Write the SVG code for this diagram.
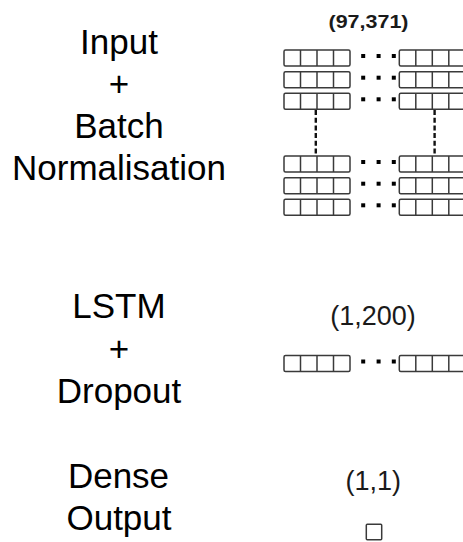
<svg xmlns="http://www.w3.org/2000/svg" xmlns:xlink="http://www.w3.org/1999/xlink" width="463" height="542" viewBox="0 0 463 542">
  <style>
    .lbl { font-family: "Liberation Sans", Arial, Helvetica, sans-serif; font-size: 35px; fill: #000; text-anchor: middle; }
    .dim { font-family: "Liberation Sans", Arial, Helvetica, sans-serif; font-size: 27px; fill: #1a1a1a; text-anchor: middle; }
    .dimb { font-family: "Liberation Sans", Arial, Helvetica, sans-serif; font-size: 19px; font-weight: bold; fill: #1a1a1a; text-anchor: middle; }
    .cell { fill: #fff; stroke: #3a3a3a; stroke-width: 1.5; }
    .div { stroke: #3a3a3a; stroke-width: 1.5; }
    .dot { fill: #000; }
    .dash { stroke: #111; stroke-width: 2.4; stroke-dasharray: 5 2.7; fill: none; }
  </style>
  <defs>
    <g id="block">
      <rect class="cell" x="0" y="0" width="66" height="16" rx="1.5"/>
      <line class="div" x1="16.5" y1="0" x2="16.5" y2="16"/>
      <line class="div" x1="33" y1="0" x2="33" y2="16"/>
      <line class="div" x1="49.5" y1="0" x2="49.5" y2="16"/>
    </g>
    <g id="row">
      <use xlink:href="#block" x="284" y="0"/>
      <rect class="dot" x="361.2" y="4" width="4" height="4"/>
      <rect class="dot" x="376.6" y="4" width="4" height="4"/>
      <rect class="dot" x="391.8" y="4" width="4" height="4"/>
      <use xlink:href="#block" x="399.3" y="0"/>
    </g>
  </defs>

  <g id="input-label">
    <text class="lbl" x="119" y="54">Input</text>
    <text class="lbl" x="119" y="96">+</text>
    <text class="lbl" x="119" y="138">Batch</text>
    <text class="lbl" x="119" y="180">Normalisation</text>
  </g>

  <g id="input-tensor">
    <text class="dimb" x="368.5" y="28" textLength="80" lengthAdjust="spacingAndGlyphs">(97,371)</text>
    <use xlink:href="#row" y="50"/>
    <use xlink:href="#row" y="71.7"/>
    <use xlink:href="#row" y="93.3"/>
    <line class="dash" x1="315.8" y1="110" x2="315.8" y2="156"/>
    <line class="dash" x1="434.6" y1="110" x2="434.6" y2="156"/>
    <use xlink:href="#row" y="156"/>
    <use xlink:href="#row" y="177.7"/>
    <use xlink:href="#row" y="199.3"/>
  </g>

  <g id="lstm-label">
    <text class="lbl" x="119" y="318">LSTM</text>
    <text class="lbl" x="119" y="360.5">+</text>
    <text class="lbl" x="119" y="403">Dropout</text>
  </g>

  <g id="lstm-tensor">
    <text class="dim" x="373" y="325">(1,200)</text>
    <use xlink:href="#row" y="355.5"/>
  </g>

  <g id="dense-label">
    <text class="lbl" x="118.5" y="488">Dense</text>
    <text class="lbl" x="119" y="530">Output</text>
  </g>

  <g id="dense-tensor">
    <text class="dim" x="373.3" y="490">(1,1)</text>
    <rect class="cell" x="366.3" y="524.3" width="15.4" height="15.4" rx="1"/>
  </g>
</svg>
